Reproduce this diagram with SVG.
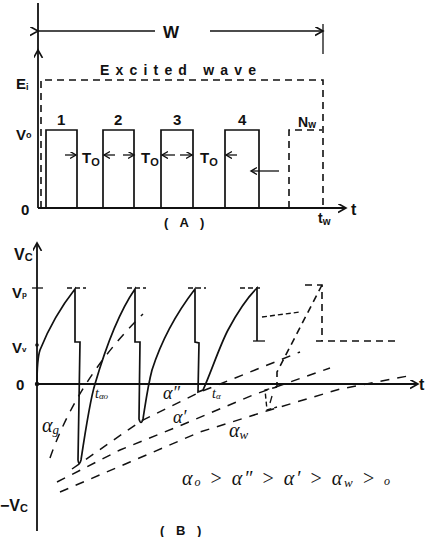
<svg xmlns="http://www.w3.org/2000/svg" width="427" height="537" viewBox="0 0 427 537">
<defs>
<marker id="ah" markerUnits="userSpaceOnUse" markerWidth="12" markerHeight="12" refX="8" refY="4.5" orient="auto" viewBox="0 0 12 12">
<path d="M0,0 L8,4.5 L0,9" fill="none" stroke="#111" stroke-width="1.6"/>
</marker>
<marker id="as" markerUnits="userSpaceOnUse" markerWidth="10" markerHeight="10" refX="6" refY="3.5" orient="auto" viewBox="0 0 10 10">
<path d="M0,0 L6,3.5 L0,7" fill="none" stroke="#111" stroke-width="1.4"/>
</marker>
</defs>
<style>
.ax{stroke:#111;stroke-width:1.8;fill:none}
.sl{stroke:#111;stroke-width:1.7;fill:none}
.th{stroke:#111;stroke-width:1.3;fill:none}
.ds{stroke:#111;stroke-width:1.6;fill:none;stroke-dasharray:7,5}
.dl{stroke:#111;stroke-width:1.5;fill:none;stroke-dasharray:9,8}
.sd{stroke:#111;stroke-width:1.4;fill:none;stroke-dasharray:5,3}
.lb{font-family:"Liberation Sans",Arial,sans-serif;font-weight:bold;fill:#111}
.hw{font-family:"Liberation Serif","Times New Roman",serif;font-style:italic;fill:#111}
</style>
<rect width="427" height="537" fill="#fff"/>

<!-- ===== Part A ===== -->
<g id="axesA">
<line class="ax" x1="38" y1="208" x2="38" y2="50" marker-end="url(#ah)"/>
<line class="ax" x1="38" y1="50" x2="38" y2="3"/>
<line class="ax" x1="38" y1="208" x2="346" y2="208" marker-end="url(#ah)"/>
<text class="lb" x="21" y="215" font-size="15">0</text>
<text class="lb" x="351" y="215" font-size="16" font-weight="normal">t</text>
<text class="lb" x="318" y="223" font-size="14">t<tspan font-size="10" dy="2">w</tspan></text>
<text class="lb" x="16" y="89" font-size="15">E<tspan font-size="9" dy="1">i</tspan></text>
<text class="lb" x="16" y="140" font-size="15">V<tspan font-size="9" dy="-2">o</tspan></text>
<text class="lb" x="164" y="227" font-size="13" letter-spacing="4">( A )</text>
</g>

<g id="widthW">
<line class="th" x1="38" y1="31" x2="155" y2="31" marker-start="url(#ah)" stroke-width="1.5"/>
<line class="th" x1="210" y1="31" x2="323" y2="31" marker-end="url(#ah)" stroke-width="1.5"/>
<line class="th" x1="323" y1="24" x2="323" y2="54" stroke-width="1.5"/>
<text class="lb" x="163" y="38" font-size="17">W</text>
</g>

<g id="excitedWave">
<path class="ds" d="M41,208 L41,80 L323,80 L323,208"/>
<text class="lb" x="100" y="75" font-size="14" textLength="156" lengthAdjust="spacing">Excited wave</text>
</g>

<g id="pulses">
<path class="sl" d="M46,208 L46,130 L77,130 L77,208"/>
<path class="sl" d="M103,208 L103,130 L134,130 L134,208"/>
<path class="sl" d="M161,208 L161,130 L193,130 L193,208"/>
<path class="sl" d="M225,208 L225,130 L259,130 L259,208"/>
<path class="ds" d="M289,208 L289,130 L322,130"/>
<text class="lb" x="57" y="125" font-size="15">1</text>
<text class="lb" x="114" y="125" font-size="15">2</text>
<text class="lb" x="173" y="125" font-size="15">3</text>
<text class="lb" x="238" y="125" font-size="15">4</text>
<text class="lb" x="298" y="127" font-size="14">N<tspan font-size="10" dy="1">w</tspan></text>
</g>

<g id="periods">
<line class="th" x1="65" y1="155" x2="76" y2="155" marker-end="url(#as)"/>
<line class="th" x1="115" y1="155" x2="104" y2="155" marker-end="url(#as)"/>
<line class="th" x1="123" y1="155" x2="134" y2="155" marker-end="url(#as)"/>
<line class="th" x1="175" y1="155" x2="162" y2="155" marker-end="url(#as)"/>
<line class="th" x1="180" y1="155" x2="192" y2="155" marker-end="url(#as)"/>
<line class="th" x1="237" y1="155" x2="226" y2="155" marker-end="url(#as)"/>
<line class="th" x1="279" y1="171" x2="251" y2="171" marker-end="url(#as)"/>
<text class="lb" x="82" y="163" font-size="15" font-weight="normal">T<tspan font-size="11" dy="3">O</tspan></text>
<text class="lb" x="141" y="163" font-size="15" font-weight="normal">T<tspan font-size="11" dy="3">O</tspan></text>
<text class="lb" x="200" y="163" font-size="15" font-weight="normal">T<tspan font-size="11" dy="3">O</tspan></text>
</g>

<!-- ===== Part B ===== -->
<g id="axesB">
<line class="ax" x1="37" y1="531" x2="37" y2="243" marker-end="url(#ah)"/>
<line class="ax" x1="37" y1="384" x2="418" y2="384" marker-end="url(#ah)"/>
<line class="th" x1="32" y1="288" x2="43" y2="288"/>
<circle cx="37" cy="384" r="2.2" fill="#111"/>
<circle cx="37" cy="345" r="1.8" fill="#111"/>
<text class="lb" x="14" y="260" font-size="16">V<tspan font-size="11" dy="1">C</tspan></text>
<text class="lb" x="12" y="298" font-size="15">V<tspan font-size="8" dy="-1">p</tspan></text>
<text class="lb" x="12" y="353" font-size="15">V<tspan font-size="8" dy="-1">v</tspan></text>
<text class="lb" x="16" y="390" font-size="15">0</text>
<text class="lb" x="419" y="390" font-size="16" font-weight="normal">t</text>
<text class="lb" x="0" y="511" font-size="16" font-weight="normal">−<tspan font-weight="bold">V</tspan><tspan font-size="11" dy="1" font-weight="bold">C</tspan></text>
<text class="lb" x="160" y="535" font-size="13" letter-spacing="4">( B )</text>
</g>

<g id="voltageCurve">
<path class="sl" d="M37,384 C37,370 38,356 40,350 C48,330 60,308 75,289 L75,342 L80,342 L78,460 Q79,467 81,460 C84,440 90,400 95,384 C102,360 115,318 135,289 L135,342 L140,342 L139,419 Q141,426 143,419 C146,400 148,385 152,370 C160,345 175,315 195,289 L195,342 L199,343 L198,392 L203,390 C210,375 220,345 228,330 C236,315 245,300 257,288 L257,341"/>
<line class="th" x1="253" y1="341" x2="265" y2="341"/>
</g>

<g id="peakLevels">
<line class="sd" x1="67" y1="288" x2="86" y2="288"/>
<line class="sd" x1="127" y1="288" x2="146" y2="288"/>
<line class="sd" x1="188" y1="288" x2="206" y2="288"/>
<line class="sd" x1="240" y1="288" x2="260" y2="288"/>
</g>

<g id="lastPulse">
<path class="ds" d="M305,285 L322,285 L322,341"/>
<line class="ds" x1="316" y1="341" x2="398" y2="341"/>
<path class="ds" d="M322,285 L277,372 L277,386"/>
<path class="sd" d="M277,387 L265,390 L267,410 L277,407"/>
<line class="th" x1="272" y1="396" x2="270" y2="403"/>
<line class="sd" x1="262" y1="317" x2="300" y2="312" stroke-dasharray="8,4,5,3"/>
</g>

<g id="thresholdLines">
<path class="dl" d="M50,458 Q78,378 143,314" stroke-dasharray="7,8"/>
<path class="dl" d="M72,469 L141,421 L200,392 L300,352"/>
<path class="dl" d="M57,482 L120,450 L177,427 L253,395 L330,368"/>
<path class="dl" d="M60,492 L130,462 L200,432 L270,410 L340,389 L408,376"/>
</g>

<g id="curveLabels">
<text class="hw" x="42" y="432" font-size="20">α<tspan font-size="13" dy="2">g</tspan></text>
<text class="hw" x="95" y="398" font-size="14">t<tspan font-size="9" dy="1">αo</tspan></text>
<text class="hw" x="163" y="399" font-size="18">α″</text>
<text class="hw" x="173" y="423" font-size="18">α′</text>
<text class="hw" x="212" y="398" font-size="14">t<tspan font-size="9" dy="1">α</tspan></text>
<text class="hw" x="229" y="437" font-size="20">α<tspan font-size="13" dy="2">w</tspan></text>
<text class="hw" x="182" y="485" font-size="20" textLength="208" lengthAdjust="spacing">α<tspan font-size="12" dy="1">o</tspan><tspan dy="-1"> &gt; α″ &gt; α′ &gt; α</tspan><tspan font-size="13" dy="2">w</tspan><tspan dy="-2"> &gt; </tspan><tspan font-size="12">o</tspan></text>
</g>
</svg>
